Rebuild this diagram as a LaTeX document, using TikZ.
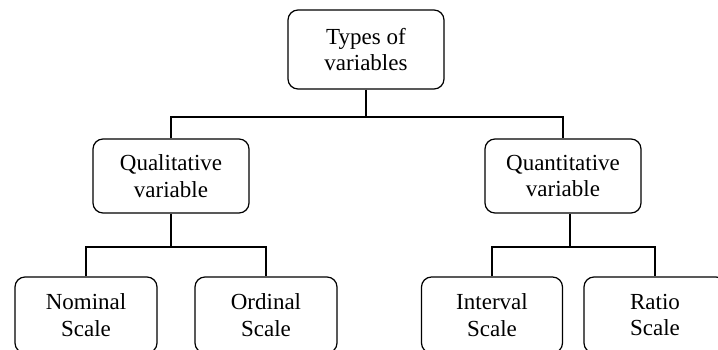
\documentclass[tikz,border=0pt]{standalone}
\usepackage{fontspec}
\setmainfont{Liberation Serif}
\begin{document}
\begin{tikzpicture}[x=1pt,y=-1pt,
  box/.style={draw=black,line width=1.2pt,rounded corners=10pt,align=center,
    inner sep=0pt,font=\fontsize{23}{26.5}\selectfont},
  conn/.style={draw=black,line width=1.2pt}]
\useasboundingbox (0,0) rectangle (718,350);
\node[box,minimum width=156pt,minimum height=79pt] (top) at (366,49.5) {Types of\\variables};
\node[box,minimum width=156pt,minimum height=74pt] (qual) at (171,176) {Qualitative\\variable};
\node[box,minimum width=156pt,minimum height=74pt] (quan) at (563,176) {Quantitative\\variable};
\node[box,minimum width=142pt,minimum height=76pt] (nominal) at (86,315) {Nominal\\Scale};
\node[box,minimum width=142pt,minimum height=76pt] (ordinal) at (266,315) {Ordinal\\Scale};
\node[box,minimum width=141pt,minimum height=76pt] (interval) at (492,315) {Interval\\Scale};
\node[box,minimum width=142pt,minimum height=76pt] (ratio) at (655,315) {Ratio\\Scale};
\coordinate (tj) at (366,117);
\coordinate (lj) at (171,247);
\coordinate (rj) at (570,247);
\draw[conn] (top.south) -- (tj);
\draw[conn] (qual.north) |- (tj) -| (quan.north);
\draw[conn] (qual.south) -- (lj);
\draw[conn] (nominal.north) |- (lj) -| (ordinal.north);
\draw[conn] (quan.south -| rj) -- (rj);
\draw[conn] (interval.north) |- (rj) -| (ratio.north);
\end{tikzpicture}
\end{document}
